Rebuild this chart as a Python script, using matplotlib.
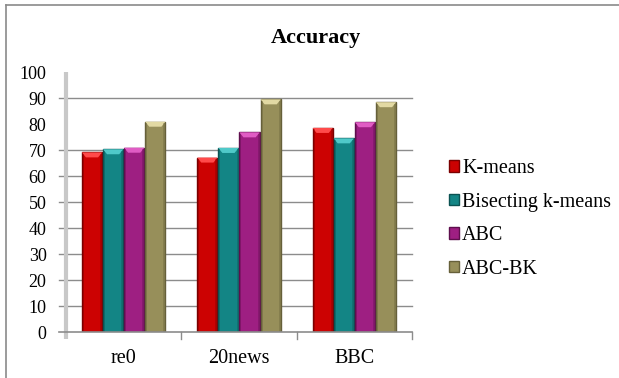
import matplotlib
matplotlib.use("Agg")
import matplotlib.pyplot as plt
from matplotlib.patches import Polygon
from matplotlib.lines import Line2D
import numpy as np

categories = ["re0", "20news", "BBC"]
series_names = ["K-means", "Bisecting k-means", "ABC", "ABC-BK"]
kmeans = [69.2, 67.2, 78.6]
bisecting = [70.4, 70.9, 74.6]
abc = [71.0, 76.9, 80.8]
abc_bk = [81.0, 89.6, 88.5]
y_ticks = [0, 10, 20, 30, 40, 50, 60, 70, 80, 90, 100]
grid_levels = [10, 20, 30, 40, 50, 60, 70, 90]

series_values = [kmeans, bisecting, abc, abc_bk]
body_colors = ["#CC0202", "#138585", "#9E1F82", "#978F5A"]
cap_colors = ["#FF4A4A", "#4FC9C9", "#E05CC4", "#E2D9A3"]
edge_colors = ["#7A0000", "#0B5252", "#5E0F4D", "#66603A"]

plt.rcParams["font.family"] = ["Liberation Serif", "DejaVu Serif"]

W, H = 619, 378
fig = plt.figure(figsize=(W / 100, H / 100), dpi=100)
ax_left, ax_right, ax_bottom, ax_top = 66, 412, 332.3, 72.3
ax = fig.add_axes([ax_left / W, (H - ax_bottom) / H, (ax_right - ax_left) / W,
                   (ax_bottom - ax_top) / H])
ax.set_xlim(-0.5, len(categories) - 0.5)
ax.set_ylim(0, 100)

x = np.arange(len(categories))
bw = 0.183
offsets = (np.arange(len(series_names)) - 1.5) * bw
stub = -7.0 / (ax_right - ax_left)

# horizontal grid lines with short outward tick stubs
for lv in grid_levels:
    ax.plot([stub, 1], [lv, lv], transform=ax.get_yaxis_transform(),
            color="#8C8C8C", lw=1.0, clip_on=False, zorder=1)

# bars with a bevelled look: darker sides and a lighter top cap
px_per_unit_y = (ax_bottom - ax_top) / 100.0
cap_units = 5.0 / px_per_unit_y
handles = []
for i, (name, vals) in enumerate(zip(series_names, series_values)):
    bars = ax.bar(x + offsets[i], vals, width=bw * 0.96, color=body_colors[i],
                  edgecolor=edge_colors[i], linewidth=1.0, label=name, zorder=3)
    handles.append(bars)
    for b in bars:
        bx, bwid, bh = b.get_x(), b.get_width(), b.get_height()
        inset = bwid * 0.2
        cap = Polygon([(bx, bh), (bx + bwid, bh), (bx + bwid - inset, bh - cap_units),
                       (bx + inset, bh - cap_units)], closed=True,
                      facecolor=cap_colors[i], edgecolor="none", zorder=4)
        ax.add_patch(cap)
        # darker side strips
        side = bwid * 0.1
        for sx in (bx, bx + bwid - side):
            ax.add_patch(plt.Rectangle((sx, 0), side, bh - cap_units * 0.3,
                                       facecolor=edge_colors[i], alpha=0.35,
                                       edgecolor="none", zorder=4))

# axes styling
for s in ("top", "right", "bottom", "left"):
    ax.spines[s].set_visible(False)
ax.plot([0, 0], [-2.5, 100], transform=ax.get_yaxis_transform(), color="#C8C8C8",
        lw=3, clip_on=False, zorder=2, solid_capstyle="butt")
ax.plot([stub, 1], [0, 0], transform=ax.get_yaxis_transform(),
        color="#8C8C8C", lw=1.2, clip_on=False, zorder=5)
for d in [0.5, 1.5, 2.5]:
    ax.plot([d, d], [0, -2.7], color="#8C8C8C", lw=1.0, clip_on=False, zorder=5)

ax.set_yticks(y_ticks)
ax.set_yticklabels([str(v) for v in y_ticks], fontsize=13)
ax.tick_params(axis="y", length=0, pad=14)
ax.set_xticks(x)
ax.set_xticklabels(categories, fontsize=14.5)
ax.tick_params(axis="x", length=0, pad=12)

fig.text(316 / W, 1 - 38 / H, "Accuracy", ha="center", va="center",
         fontsize=16, fontweight="bold")

fig.legend(handles=handles, labels=series_names, loc="upper left",
           bbox_to_anchor=(439 / W, 1 - 149 / H), frameon=False, fontsize=14.5,
           handlelength=0.5, handleheight=0.5, handletextpad=0.15,
           labelspacing=0.72, borderpad=0)

# outer frame
fig.add_artist(Line2D([6 / W, 1.0], [1 - 5 / H, 1 - 5 / H], transform=fig.transFigure,
                      color="#8A8A8A", lw=1.2))
fig.add_artist(Line2D([6 / W, 6 / W], [0, 1 - 5 / H], transform=fig.transFigure,
                      color="#8A8A8A", lw=1.2))

fig.savefig("out.png", dpi=100)
